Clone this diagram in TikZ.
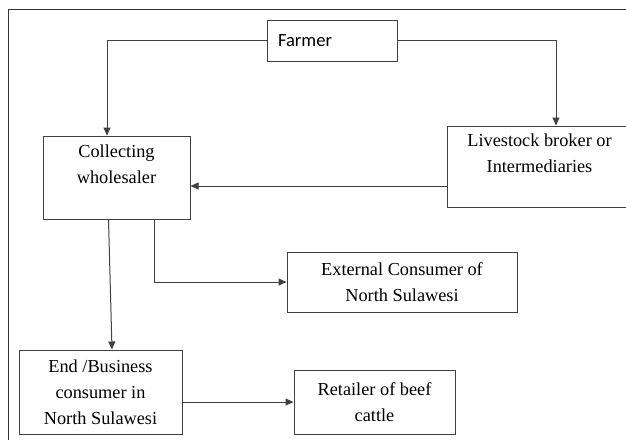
\documentclass[tikz,border=0pt]{standalone}
\usepackage{fontspec}
\setmainfont{Liberation Serif}
\newfontfamily\calfont{Carlito}
\usetikzlibrary{arrows.meta}

\begin{document}
\begin{tikzpicture}[x=1pt, y=-1pt,
    market/.style ={rectangle, draw=black!75, line width=1pt, align=center,
                    font=\fontsize{18.3}{26}\selectfont},
    flow/.style ={draw=black!75, line width=1pt, -{Triangle[length=8pt,width=7pt]}}]
   \useasboundingbox (0,0) rectangle (626,439);
   \clip (0,0) rectangle (626,439);
   \draw[black!80, line width=1pt] (8,450) -- (8,9) -- (640,9);

   \node[market, minimum width=130, minimum height=41, text width=108, align=left,
         inner xsep=11pt, font=\calfont\fontsize{18.6}{22}\selectfont] (farmer) at (332,40.5) {Farmer};
   \node[market, minimum width=147, minimum height=83] (coll) at (116.5,177.5) {Collecting\\wholesaler\\ \mbox{}};
   \node[market, minimum width=185, minimum height=81] (liv)  at (539.5,166.5) {Livestock broker or\\Intermediaries\\ \mbox{}};
   \node[market, minimum width=230, minimum height=60] (ext)  at (402,282) {External Consumer of\\North Sulawesi};
   \node[market, minimum width=163, minimum height=84] (end)  at (100.5,392) {End /Business\\consumer in\\North Sulawesi};
   \node[market, minimum width=161, minimum height=64] (ret)  at (374.5,402) {Retailer of beef\\cattle};

   \draw[flow] (farmer.west) -| ([xshift=-9.5pt]coll.north);
   \draw[flow] (farmer.east) -| ([xshift=16.5pt]liv.north);
   \draw[flow] ([yshift=-19.5pt]liv.west) -- ([yshift=-8.5pt]coll.east);
   \draw[flow] ([xshift=-8pt]coll.south) -- ([xshift=11.5pt]end.north);
   \draw[flow] ([xshift=37.5pt]coll.south) |- (ext.west);
   \draw[flow] ([yshift=-10pt]end.east) -- (ret.west);

 \end{tikzpicture}
\end{document}
